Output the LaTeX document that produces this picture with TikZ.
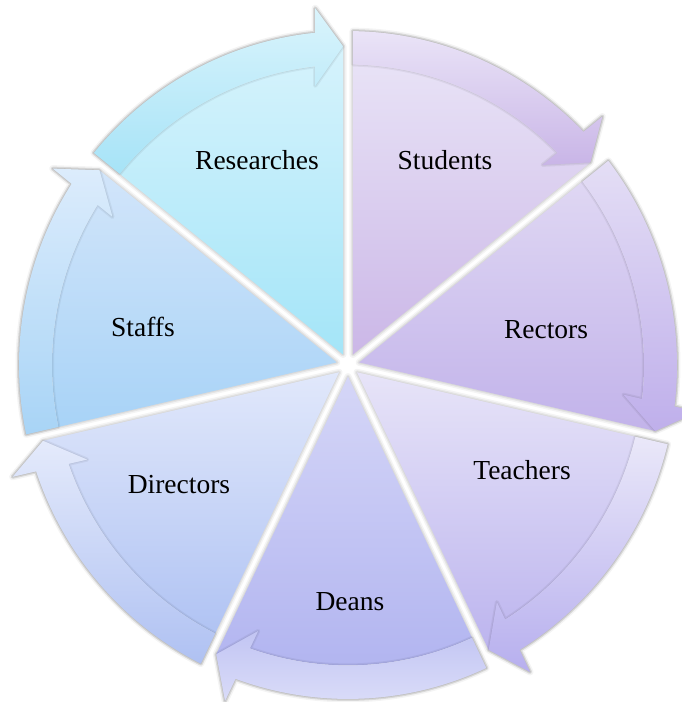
\documentclass[tikz,border=0pt]{standalone}
\usepackage{fontspec}
\setmainfont{Liberation Serif}
% wedge colours (top / bottom) and arrow colours (top / bottom)
\definecolor{rsWT}{HTML}{D6F3FC}\definecolor{rsWB}{HTML}{A4E5F8}
\definecolor{rsAT}{HTML}{DAF4FC}\definecolor{rsAB}{HTML}{A6E3F7}
\definecolor{stWT}{HTML}{E8E2F6}\definecolor{stWB}{HTML}{CBB7E7}
\definecolor{stAT}{HTML}{EAE4F7}\definecolor{stAB}{HTML}{C9B5E7}
\definecolor{reWT}{HTML}{DFD7F3}\definecolor{reWB}{HTML}{C2B3EA}
\definecolor{reAT}{HTML}{E4DEF5}\definecolor{reAB}{HTML}{BFAFEB}
\definecolor{teWT}{HTML}{E7E4F8}\definecolor{teWB}{HTML}{BCB4EE}
\definecolor{teAT}{HTML}{EAE8F9}\definecolor{teAB}{HTML}{B7AFEE}
\definecolor{deWT}{HTML}{D5D6F7}\definecolor{deWB}{HTML}{B1B4F0}
\definecolor{deAT}{HTML}{C2C5F3}\definecolor{deAB}{HTML}{DCDEF9}
\definecolor{diWT}{HTML}{E1E8FB}\definecolor{diWB}{HTML}{B0C3F3}
\definecolor{diAT}{HTML}{E4EAFB}\definecolor{diAB}{HTML}{AFC1F2}
\definecolor{sfWT}{HTML}{D2E5FA}\definecolor{sfWB}{HTML}{A8D3F7}
\definecolor{sfAT}{HTML}{DCECFC}\definecolor{sfAB}{HTML}{A8D4F6}
\tikzset{
  shadowA/.style={draw=black, draw opacity=0.045, line width=7pt, line join=round},
  shadowB/.style={draw=black, draw opacity=0.06, line width=4pt, line join=round},
  shadowC/.style={draw=black, draw opacity=0.05, line width=1.6pt, line join=round},
  arrowshadowA/.style={draw=black, draw opacity=0.05, line width=4pt, line join=round},
  arrowshadowB/.style={draw=black, draw opacity=0.05, line width=1.6pt, line join=round},
  label/.style={font=\fontsize{27.5}{33}\selectfont, text=black, inner sep=0pt}
}
% outline of a whole segment (wedge and arrow), and of its arrow alone
\newcommand\segoutline[1]{({#1+25.714}:11.5pt) -- ({#1+0.906}:314pt) -- ({#1+5.33}:353pt)
     -- ({#1+5.72}:329pt) arc[start angle={#1+5.72}, end angle={#1+50.56}, radius=329pt] -- cycle}
\newcommand\wedgeoutline[1]{({#1+25.714}:11.5pt) -- ({#1+0.906}:314pt)
     -- ({#1+6.36}:296pt) arc[start angle={#1+6.36}, end angle={#1+50.47}, radius=296pt] -- cycle}
\newcommand\arrowoutline[1]{({#1+50.56}:329pt) arc[start angle={#1+50.56}, end angle={#1+5.72}, radius=329pt]
     -- ({#1+5.33}:353pt) -- ({#1+0.906}:314pt) -- ({#1+6.80}:277pt)
     -- ({#1+6.36}:296pt) arc[start angle={#1+6.36}, end angle={#1+50.47}, radius=296pt] -- cycle}
% #1 end-boundary angle, #2/#3 wedge top/bottom colour, #4/#5 arrow top/bottom colour
\newcommand\drawsegment[5]{%
  \path[shadowA] \segoutline{#1};
  \path[shadowB] \segoutline{#1};
  \path[shadowC] \segoutline{#1};
  \path[top color=#2, bottom color=#3] \wedgeoutline{#1};
  \path[arrowshadowA] \arrowoutline{#1};
  \path[arrowshadowB] \arrowoutline{#1};
  \path[top color=#4, bottom color=#5] \arrowoutline{#1};
}
\begin{document}
\begin{tikzpicture}[x=1pt,y=1pt]
  \useasboundingbox (0,0) rectangle (681,702);
  \fill[white] (0,0) rectangle (681,702);
  \begin{scope}[shift={(348,337)}, yscale=1.015]
    \drawsegment{90}{rsWT}{rsWB}{rsAT}{rsAB}
    \drawsegment{38.571}{stWT}{stWB}{stAT}{stAB}
    \drawsegment{-12.857}{reWT}{reWB}{reAT}{reAB}
    \drawsegment{-64.286}{teWT}{teWB}{teAT}{teAB}
    \drawsegment{-115.714}{deWT}{deWB}{deAT}{deAB}
    \drawsegment{-167.143}{diWT}{diWB}{diAT}{diAB}
    \drawsegment{141.429}{sfWT}{sfWB}{sfAT}{sfAB}
  \end{scope}
  \node[label] (researches) at (257,542) {Researches};
  \node[label] (students)   at (445,542) {Students};
  \node[label] (rectors)    at (546,372) {Rectors};
  \node[label] (teachers)   at (522,232) {Teachers};
  \node[label] (deans)      at (350,100) {Deans};
  \node[label] (directors)  at (179,217) {Directors};
  \node[label] (staffs)     at (143,375) {Staffs};
\end{tikzpicture}
\end{document}
